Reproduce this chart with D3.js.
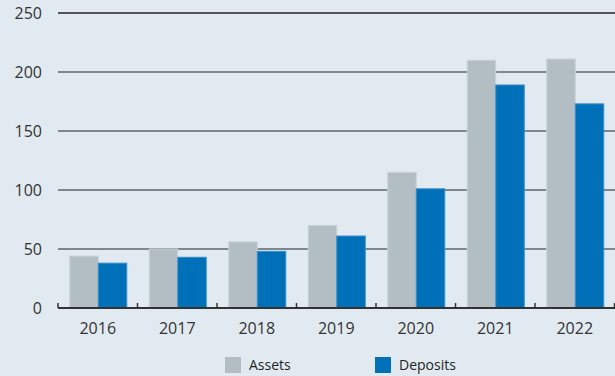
<!DOCTYPE html>
<html>
<head>
<meta charset="utf-8">
<script src="https://d3js.org/d3.v7.min.js"></script>
<style>
  body { margin: 0; background: #e2eaf1; }
  svg { display: block; font-family: "Open Sans", sans-serif; }
</style>
</head>
<body>
<svg id="chart" width="615" height="376"></svg>
<script>
    var years = ["2016", "2017", "2018", "2019", "2020", "2021", "2022"];
    var assets = [44, 50, 56, 70, 115, 210, 211];
    var deposits = [38, 43, 48, 61, 101, 189, 173];
    var seriesNames = ["Assets", "Deposits"];
    var yTicks = [0, 50, 100, 150, 200, 250];

    var colours = { Assets: "#b3bec4", Deposits: "#0071b9" };

    var svg = d3.select("#chart"),
        margin = { top: 13, right: 0, bottom: 68, left: 58 },
        width = 615 - margin.left - margin.right,
        height = 376 - margin.top - margin.bottom;

    svg.append("rect").attr("width", 615).attr("height", 376).attr("fill", "#e2eaf1");

    var g = svg.append("g")
        .attr("transform", "translate(" + margin.left + "," + margin.top + ")");

    var x = d3.scaleBand().domain(years).range([0, width - 0.5]).paddingInner(0).paddingOuter(0);
    var x1 = d3.scaleBand().domain(seriesNames).range([0, 57]);
    var y = d3.scaleLinear().domain([0, 250]).range([height, 0]);

    // gridlines
    g.selectAll(".grid")
        .data(yTicks.filter(function(d) { return d > 0; }))
        .enter().append("line")
        .attr("x1", 0)
        .attr("x2", width)
        .attr("y1", function(d) { return y(d); })
        .attr("y2", function(d) { return y(d); })
        .attr("stroke", function(d) { return d == 250 ? "#222" : "#5f6469"; })
        .attr("stroke-width", 1.5);

    // y labels
    g.selectAll(".ylab")
        .data(yTicks)
        .enter().append("text")
        .attr("x", -16)
        .attr("y", function(d) { return y(d); })
        .attr("dy", "0.36em")
        .attr("text-anchor", "end")
        .attr("fill", "#333")
        .style("font-size", "16px")
        .text(function(d) { return d; });

    var rows = years.map(function(yr, i) {
        return { year: yr, Assets: assets[i], Deposits: deposits[i] };
    });

    var groupOffset = (x.bandwidth() - 57) / 2 + 0.5;

    var groups = g.selectAll(".grp")
        .data(rows)
        .enter().append("g")
        .attr("transform", function(d) { return "translate(" + (x(d.year) + groupOffset) + ",0)"; });

    groups.selectAll("rect")
        .data(function(d) { return seriesNames.map(function(k) { return { key: k, value: d[k] }; }); })
        .enter().append("rect")
        .attr("x", function(d) { return x1(d.key); })
        .attr("y", function(d) { return y(d.value); })
        .attr("width", x1.bandwidth())
        .attr("height", function(d) { return height - y(d.value); })
        .attr("fill", function(d) { return colours[d.key]; })
        .attr("stroke", function(d) { return d.key == "Assets" ? "#c9d3d9" : "#3b8cc8"; })
        .attr("stroke-width", 1);

    // baseline + ticks
    var xAxis = g.append("g")
        .attr("transform", "translate(0," + height + ")");
    xAxis.append("line")
        .attr("x1", 0).attr("x2", width)
        .attr("stroke", "#333").attr("stroke-width", 2);
    xAxis.selectAll(".tick")
        .data(years.map(function(d) { return x(d); }).concat([x(years[years.length - 1]) + x.bandwidth()]))
        .enter().append("line")
        .attr("x1", function(d) { return d; })
        .attr("x2", function(d) { return d; })
        .attr("y1", 0).attr("y2", -5)
        .attr("stroke", "#333").attr("stroke-width", 1.5);
    xAxis.selectAll(".xlab")
        .data(years)
        .enter().append("text")
        .attr("x", function(d) { return x(d) + x.bandwidth() / 2; })
        .attr("y", 26)
        .attr("text-anchor", "middle")
        .attr("fill", "#333")
        .style("font-size", "16px")
        .text(function(d) { return d; });

    // legend
    var legend = svg.append("g").attr("transform", "translate(0,357)");
    var legendX = [225, 375];
    seriesNames.forEach(function(k, i) {
        legend.append("rect")
            .attr("x", legendX[i]).attr("y", 0)
            .attr("width", 16).attr("height", 16)
            .attr("fill", colours[k]);
        legend.append("text")
            .attr("x", legendX[i] + 24).attr("y", 13)
            .attr("fill", "#222")
            .style("font-size", "14px")
            .text(k);
    });
</script>
</body>
</html>
